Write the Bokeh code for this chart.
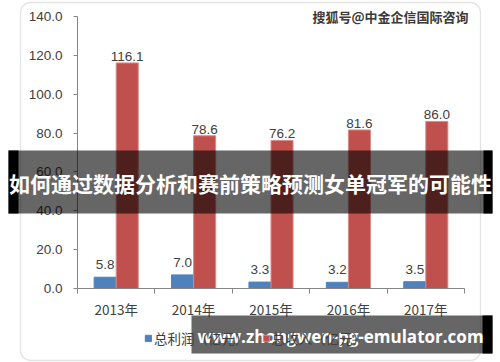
import numpy as np
from bokeh.plotting import figure
from bokeh.core.properties import value
from bokeh.models import (ColumnDataSource, LabelSet, Label, BoxAnnotation, FixedTicker,
                          Legend, LegendItem, Range1d, NumeralTickFormatter)
from bokeh.embed import file_html
from bokeh.resources import INLINE

years = ["2013年", "2014年", "2015年", "2016年", "2017年"]
profit = [5.8, 7.0, 3.3, 3.2, 3.5]
revenue = [116.1, 78.6, 76.2, 81.6, 86.0]
y_ticks = [0, 20, 40, 60, 80, 100, 120, 140]
series_names = ["总利润（亿元）", "总收入（亿元）"]
title_text = "如何通过数据分析和赛前策略预测女单冠军的可能性"
watermark_text = "搜狐号@中金企信国际咨询"
site_text = "www.zhongwen-pg-emulator.com"

BLUE = "#4F81BD"
RED = "#C0504D"
AXIS = "#868686"
TXT = "#404040"
CJK = "Noto Sans CJK SC"
NUM = "Liberation Sans"

W, H = 500, 362
# plot-area placement on the canvas (pixels)
FL, FR, FT, FB = 77, 464, 16, 288
n = len(years)
ymax = y_ticks[-1]
ppx = (FR - FL) / n
ppy = (FB - FT) / ymax

centers = np.arange(n) + 0.5
bw = 0.285
src = ColumnDataSource(dict(
    xb=centers - bw / 2, xr=centers + bw / 2,
    profit=profit, revenue=revenue,
    pl=[f"{v:.1f}" for v in profit], rl=[f"{v:.1f}" for v in revenue]))

p = figure(width=W, height=H,
           x_range=Range1d(-FL / ppx, n + (W - FR) / ppx),
           y_range=Range1d(-(H - FB) / ppy, ymax + FT / ppy),
           output_backend="svg", toolbar_location=None,
           min_border=0, min_border_left=0, min_border_right=0,
           min_border_top=0, min_border_bottom=0)
p.outline_line_color = None
p.grid.visible = False
p.background_fill_color = "white"
p.border_fill_color = "white"

# chart area border
p.add_layout(BoxAnnotation(left=20, right=480, top=2, bottom=360,
                           left_units="canvas", right_units="canvas",
                           top_units="canvas", bottom_units="canvas",
                           fill_alpha=0, line_color="#A6A6A6", line_width=1.3,
                           border_radius=10, level="underlay"))

# x axis
p.xaxis.fixed_location = 0
p.xaxis.bounds = (0, n)
p.xaxis.ticker = FixedTicker(ticks=[float(c) for c in centers], minor_ticks=list(range(n + 1)))
p.xaxis.major_label_overrides = {float(c): y for c, y in zip(centers, years)}
p.xaxis.major_tick_in = 0
p.xaxis.major_tick_out = 0
p.xaxis.minor_tick_in = 0
p.xaxis.minor_tick_out = 5
p.xaxis.minor_tick_line_color = AXIS
p.xaxis.axis_line_color = AXIS
p.xaxis.major_label_text_font = CJK
p.xaxis.major_label_text_font_size = "13.5px"
p.xaxis.major_label_text_color = TXT
p.xaxis.major_label_standoff = 5

# y axis
p.yaxis.fixed_location = 0
p.yaxis.bounds = (0, ymax)
p.yaxis.ticker = FixedTicker(ticks=y_ticks)
p.yaxis.formatter = NumeralTickFormatter(format="0.0")
p.yaxis.major_tick_in = 0
p.yaxis.major_tick_out = 4
p.yaxis.minor_tick_line_color = None
p.yaxis.major_tick_line_color = AXIS
p.yaxis.axis_line_color = AXIS
p.yaxis.major_label_text_font = NUM
p.yaxis.major_label_text_font_size = "13.5px"
p.yaxis.major_label_text_color = TXT
p.yaxis.major_label_standoff = 11

rb = p.vbar(x="xb", top="profit", width=bw, bottom=0, source=src, fill_color=BLUE, line_color=BLUE)
rr = p.vbar(x="xr", top="revenue", width=bw, bottom=0, source=src, fill_color=RED, line_color="#D98A88")

p.add_layout(LabelSet(x="xb", y="profit", text="pl", source=src, text_align="center",
                      text_baseline="bottom", y_offset=8, text_font=value(NUM),
                      text_font_size="13.5px", text_color=TXT))
p.add_layout(LabelSet(x="xr", y="revenue", text="rl", source=src, text_align="center",
                      text_baseline="bottom", y_offset=2, text_font=value(NUM),
                      text_font_size="13.5px", text_color=TXT))

legend = Legend(items=[LegendItem(label=series_names[0], renderers=[rb]),
                       LegendItem(label=series_names[1], renderers=[rr])],
                orientation="horizontal", location=(144, 14),
                border_line_color=None, background_fill_alpha=0,
                label_text_font=CJK, label_text_font_size="13.5px", label_text_color=TXT,
                glyph_width=8, glyph_height=8, spacing=13, padding=0, margin=0,
                label_standoff=2, level="underlay")
p.add_layout(legend)

# watermark
p.add_layout(Label(x=468, y=16, x_units="canvas", y_units="canvas", text=watermark_text,
                   text_align="right", text_baseline="middle", text_font=CJK,
                   text_font_size="13px", text_font_style="bold", text_color="#3a3a3a",
                   level="overlay"))

def box(l, r, t, b, alpha):
    p.add_layout(BoxAnnotation(left=l, right=r, top=t, bottom=b,
                               left_units="canvas", right_units="canvas",
                               top_units="canvas", bottom_units="canvas",
                               fill_color="black", fill_alpha=alpha, line_color=None,
                               level="overlay"))

# middle banner
box(8, 492, 150, 213, 0.6)
box(8, 18, 150, 213, 1.0)
box(483, 492, 150, 213, 1.0)
p.add_layout(Label(x=250, y=182, x_units="canvas", y_units="canvas", text=title_text,
                   text_align="center", text_baseline="middle", text_font=CJK,
                   text_font_size="21px", text_font_style="bold", text_color="white",
                   level="overlay"))

# bottom banner
box(191, 492, 315, 353, 0.6)
box(482, 492, 315, 353, 1.0)
p.add_layout(Label(x=340, y=336, x_units="canvas", y_units="canvas", text=site_text,
                   text_align="center", text_baseline="middle", text_font="Open Sans",
                   text_font_size="17px", text_font_style="bold", text_color="white",
                   level="overlay"))

open("out.html", "w").write(file_html(p, INLINE))
